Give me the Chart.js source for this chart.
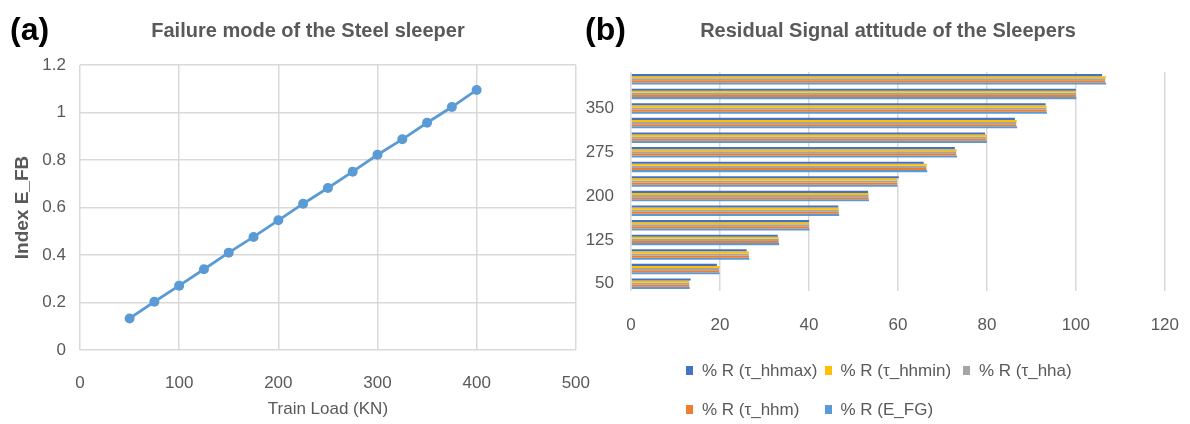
<!DOCTYPE html>
<html lang="en">
<head>
  <meta charset="UTF-8">
  <title>Steel sleeper charts</title>
  <script src="https://cdn.jsdelivr.net/npm/chart.js@4.4.1/dist/chart.umd.min.js"></script>
  <style>
    body { margin: 0; background: #fff; font-family: 'Liberation Sans', sans-serif; }
    #wrap { position: relative; width: 1190px; height: 424px; overflow: hidden; }
    canvas { position: absolute; top: 0; }
    #chartA { left: 0; }
    #chartB { left: 580px; }
    .tag { position: absolute; top: 11px; font-size: 32px; font-weight: bold; color: #000; }
    .ttl { position: absolute; top: 18px; width: 500px; text-align: center; font-size: 20px; line-height: 24px; font-weight: bold; color: #595959; white-space: nowrap; }
    .leg { position: absolute; font-size: 17px; color: #595959; white-space: nowrap; line-height: 20px; }
    .leg i { display: inline-block; width: 7px; height: 9px; margin-right: 9px; vertical-align: 1px; }
  </style>
</head>
<body>
  <div id="wrap">
    <canvas id="chartA" width="613" height="424"></canvas>
    <canvas id="chartB" width="623" height="424"></canvas>
    <div class="tag" style="left:10px">(a)</div>
    <div class="tag" style="left:585px">(b)</div>
    <div class="ttl" style="left:58px">Failure mode of the Steel sleeper</div>
    <div class="ttl" style="left:638px">Residual Signal attitude of the Sleepers</div>
    <div id="legendB"></div>
  </div>

  <script>
    // train load (KN) - shared by both charts
    const loads = [50, 75, 100, 125, 150, 175, 200, 225, 250, 275, 300, 325, 350, 375, 400];

    // (a) failure index
    const indexEFB = [0.133, 0.203, 0.271, 0.340, 0.410, 0.476, 0.546, 0.616, 0.682, 0.751, 0.822, 0.887, 0.957, 1.023, 1.095];

    // (b) residual signal in %
    const seriesNames = ['% R (τ_hhmax)', '% R (τ_hhmin)', '% R (τ_hha)', '% R (τ_hhm)', '% R (E_FG)'];
    const seriesColors = ['#4472C4', '#FFC000', '#A5A5A5', '#ED7D31', '#5B9BD5'];
    const rHhmax = [13.4, 19.3, 26.0, 33.0, 40.0, 46.6, 53.3, 60.2, 65.8, 72.8, 79.6, 86.3, 93.2, 100.0, 105.9];
    const rHhmin = [13.1, 19.9, 26.5, 33.2, 40.0, 46.7, 53.4, 59.8, 66.5, 73.2, 80.0, 86.7, 93.4, 100.0, 106.8];
    const rHha   = [13.1, 19.8, 26.5, 33.2, 40.0, 46.7, 53.4, 59.8, 66.4, 73.1, 79.9, 86.6, 93.4, 100.0, 106.6];
    const rHhm   = [13.1, 19.8, 26.5, 33.2, 40.0, 46.7, 53.4, 59.8, 66.4, 73.1, 79.9, 86.6, 93.4, 100.0, 106.6];
    const rEfg   = [13.2, 19.9, 26.6, 33.3, 40.1, 46.8, 53.5, 59.9, 66.6, 73.3, 80.0, 86.8, 93.5, 100.1, 106.8];

    const GREY = '#595959';
    const GRID = '#D9D9D9';
    Chart.defaults.font.family = "'Liberation Sans', sans-serif";
    Chart.defaults.color = GREY;

    // (a) line chart
    new Chart(document.getElementById('chartA'), {
      type: 'line',
      data: {
        datasets: [{
          data: loads.map((x, i) => ({ x: x, y: indexEFB[i] })),
          borderColor: '#5B9BD5',
          backgroundColor: '#5B9BD5',
          borderWidth: 2.8,
          pointRadius: 5,
          pointBorderWidth: 0
        }]
      },
      options: {
        responsive: false,
        animation: false,
        layout: { padding: { left: 0, right: 15, top: 65, bottom: 0 } },
        plugins: {
          legend: { display: false },
          tooltip: { enabled: false }
        },
        scales: {
          x: {
            type: 'linear',
            min: 0, max: 500,
            ticks: { stepSize: 100, font: { size: 17 }, padding: 23 },
            grid: { color: GRID, lineWidth: 1.5, drawTicks: false },
            border: { display: false },
            title: { display: true, text: 'Train Load (KN)', font: { size: 17 }, padding: { top: 0, bottom: 4 } },
            afterFit: (s) => { s.height = 74; }
          },
          y: {
            min: 0, max: 1.2,
            ticks: {
              stepSize: 0.2, font: { size: 17 }, padding: 14,
              callback: (v) => String(Math.round(v * 10) / 10)
            },
            grid: { color: GRID, lineWidth: 1.5, drawTicks: false },
            border: { display: false },
            title: { display: true, text: 'Index E_FB', font: { size: 19, weight: 'bold' }, padding: { top: 11, bottom: 0 } },
            afterFit: (s) => { s.width = 80; }
          }
        }
      }
    });

    // (b) horizontal grouped bars
    const rValues = [rHhmax, rHhmin, rHha, rHhm, rEfg];
    new Chart(document.getElementById('chartB'), {
      type: 'bar',
      data: {
        labels: loads,
        datasets: rValues.map((vals, i) => ({
          label: seriesNames[i],
          data: vals,
          backgroundColor: seriesColors[i],
          categoryPercentage: 0.72,
          barPercentage: 1.0
        }))
      },
      options: {
        indexAxis: 'y',
        responsive: false,
        animation: false,
        layout: { padding: { left: 0, right: 12, top: 72, bottom: 88 } },
        plugins: {
          legend: { display: false },
          tooltip: { enabled: false }
        },
        scales: {
          x: {
            min: 0, max: 120,
            ticks: { stepSize: 20, font: { size: 17 }, padding: 24 },
            grid: { color: GRID, lineWidth: 1.5, drawTicks: false },
            border: { display: false },
            afterFit: (s) => { s.height = 45; }
          },
          y: {
            reverse: true,
            ticks: {
              autoSkip: false,
              font: { size: 17 },
              padding: 17,
              callback: function (val, i) { return i % 3 === 0 ? this.getLabelForValue(val) : ''; }
            },
            grid: { display: false, drawTicks: false },
            border: { display: false },
            afterFit: (s) => { s.width = 51; }
          }
        }
      }
    });

    // legend for (b), laid out in a 3-column grid like the original
    const legendBox = document.getElementById('legendB');
    seriesNames.forEach((name, i) => {
      const item = document.createElement('div');
      item.className = 'leg';
      item.style.left = (686 + (i % 3) * 138.5) + 'px';
      item.style.top = (361 + Math.floor(i / 3) * 39) + 'px';
      item.innerHTML = '<i style="background:' + seriesColors[i] + '"></i>' + name;
      legendBox.appendChild(item);
    });
  </script>
</body>
</html>
